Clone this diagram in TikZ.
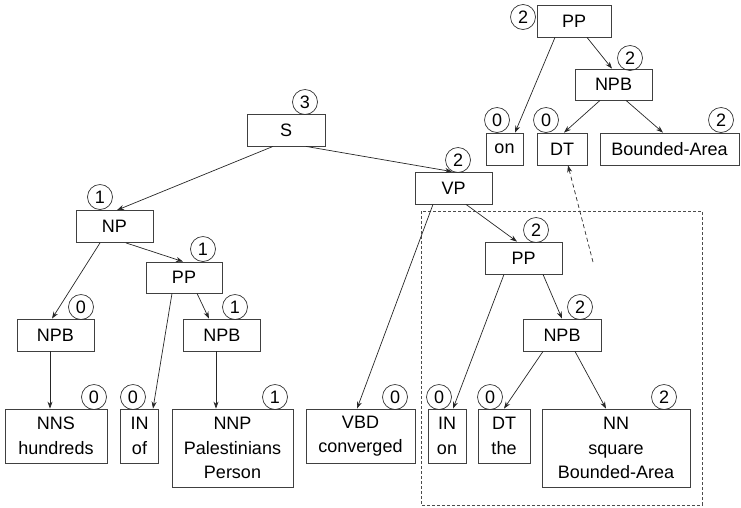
\documentclass[tikz,border=0pt]{standalone}
\usepackage{fontspec}
\setmainfont{Liberation Sans}
\usetikzlibrary{arrows.meta}
\tikzset{
  bx/.style 2 args={draw=black!75, line width=0.8pt, inner sep=0pt,
    minimum width=#1, minimum height=#2, align=center,
    font=\fontsize{18}{24.5}\selectfont},
  num/.style={draw=black!80, line width=0.7pt, circle, inner sep=0pt,
    minimum size=25pt, font=\fontsize{18}{20}\selectfont},
  arr/.style={draw=black!85, line width=0.7pt, -{Stealth[length=7pt,width=5pt]}},
  darr/.style={arr, dashed, dash pattern=on 4pt off 3pt},
  region/.style={draw=black!70, line width=0.7pt, dash pattern=on 3pt off 2pt}
}
\begin{document}
\begin{tikzpicture}[x=1pt,y=-1pt]
\useasboundingbox (0,0) rectangle (741,507);

% dashed region around the VP subtree
\draw[region] (421,211) rectangle (702,505);

% ---- main tree: boxes ----
\node[bx={78pt}{32pt}] (S) at (286,130) {S};
\node[bx={77pt}{32pt}] (VP) at (453.5,188) {VP};
\node[bx={77pt}{32pt}] (NP) at (114.5,226.5) {NP};
\node[bx={76pt}{31pt}] (PPa) at (184,277.5) {PP};
\node[bx={77pt}{32pt}] (NPBa) at (55.5,335) {NPB};
\node[bx={77pt}{32pt}] (NPBb) at (222,335) {NPB};
\node[bx={102pt}{54pt}] (NNS) at (56,436) {NNS\\hundreds};
\node[bx={38pt}{54pt}] (INof) at (139.5,436) {IN\\of};
\node[bx={121pt}{78pt}] (NNP) at (232.5,448) {NNP\\Palestinians\\Person};
\node[bx={109pt}{54pt}] (VBD) at (360.5,436) {VBD\\converged};
\node[bx={77pt}{32pt}] (PPb) at (523.5,258) {PP};
\node[bx={78pt}{32pt}] (NPBc) at (562,335) {NPB};
\node[bx={38pt}{54pt}] (INon) at (447,436) {IN\\on};
\node[bx={52pt}{54pt}] (DTthe) at (504,436) {DT\\the};
\node[bx={148pt}{78pt}] (NN) at (616,448) {NN\\square\\Bounded-Area};

% ---- fragment: boxes ----
\node[bx={74pt}{32pt}] (PPt) at (574,21) {PP};
\node[bx={77pt}{31pt}] (NPBt) at (613.5,84.5) {NPB};
\node[bx={37pt}{32pt}] (ont) at (504.5,149) {on};
\node[bx={50pt}{32pt}] (DTt) at (562,149) {DT};
\node[bx={139pt}{32pt}] (BAt) at (669.5,149) {Bounded-Area};

% ---- counts ----
\node[num] (cS) at (305,102) {3};
\node[num] (cVP) at (458,160) {2};
\node[num] (cNP) at (100,197) {1};
\node[num] (cPPa) at (203,249) {1};
\node[num] (cNPBa) at (81,307) {0};
\node[num] (cNPBb) at (235,307) {1};
\node[num] (cNNS) at (94,397) {0};
\node[num] (cINof) at (133,397) {0};
\node[num] (cNNP) at (275,397) {1};
\node[num] (cVBD) at (395,397) {0};
\node[num] (cPPb) at (536,230) {2};
\node[num] (cNPBc) at (580,307) {2};
\node[num] (cINon) at (439,397) {0};
\node[num] (cDTthe) at (490,397) {0};
\node[num] (cNN) at (664,397) {2};
\node[num] (cPPt) at (523,17) {2};
\node[num] (cNPBt) at (630,58) {2};
\node[num] (cont) at (497,120) {0};
\node[num] (cDTt) at (546,120) {0};
\node[num] (cBAt) at (721,120) {2};

% ---- main tree: edges ----
\draw[arr] ([xshift=20pt]S.south) -- ([xshift=-1.5pt]VP.north);
\draw[arr] ([xshift=-13pt]S.south) -- ([xshift=2.5pt]NP.north);
\draw[arr] ([xshift=11.5pt]NP.south) -- ([xshift=-1pt]PPa.north);
\draw[arr] ([xshift=-14.5pt]NP.south) -- ([xshift=-3.5pt]NPBa.north);
\draw[arr] ([xshift=13pt]PPa.south) -- ([xshift=-13pt]NPBb.north);
\draw[arr] ([xshift=-12pt]PPa.south) -- ([xshift=13.5pt]INof.north);
\draw[arr] ([xshift=-5.5pt]NPBa.south) -- ([xshift=-6pt]NNS.north);
\draw[arr] ([xshift=-6pt]NPBb.south) -- ([xshift=-16.5pt]NNP.north);
\draw[arr] ([xshift=-20.5pt]VP.south) -- ([xshift=-3.5pt]VBD.north);
\draw[arr] ([xshift=12.5pt]VP.south) -- ([xshift=-6.5pt]PPb.north);
\draw[arr] ([xshift=-19.5pt]PPb.south) -- ([xshift=6pt]INon.north);
\draw[arr] ([xshift=19.5pt]PPb.south) -- (NPBc.north);
\draw[arr] ([xshift=-19pt]NPBc.south) -- (DTthe.north);
\draw[arr] ([xshift=13pt]NPBc.south) -- ([xshift=-10pt]NN.north);

% ---- fragment: edges ----
\draw[arr] ([xshift=-19pt]PPt.south) -- ([xshift=10.5pt]ont.north);
\draw[arr] ([xshift=13pt]PPt.south) -- ([xshift=-1.5pt]NPBt.north);
\draw[arr] ([xshift=-13.5pt]NPBt.south) -- ([xshift=2pt]DTt.north);
\draw[arr] ([xshift=12.5pt]NPBt.south) -- ([xshift=-6.5pt]BAt.north);

% dashed link from the region up to the fragment
\coordinate (link) at (593,262);
\draw[darr] (link) -- ([xshift=6pt]DTt.south);
\end{tikzpicture}
\end{document}
